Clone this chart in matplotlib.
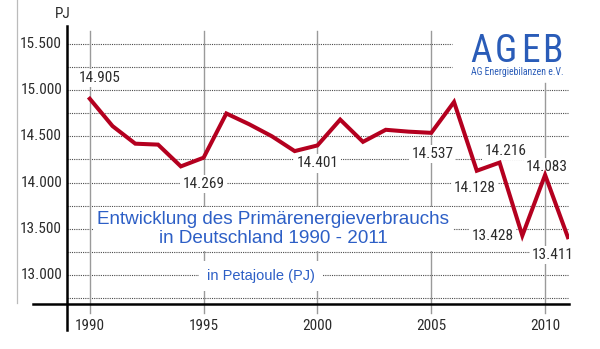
import matplotlib
matplotlib.use("Agg")
import matplotlib.pyplot as plt
from matplotlib.lines import Line2D
import matplotlib.transforms as mtransforms

# Primärenergieverbrauch in Deutschland, PJ
years = [1990, 1991, 1992, 1993, 1994, 1995, 1996, 1997, 1998, 1999, 2000,
         2001, 2002, 2003, 2004, 2005, 2006, 2007, 2008, 2009, 2010, 2011]
pj = [14905, 14610, 14420, 14410, 14175, 14269, 14746, 14630, 14500, 14340, 14401,
      14680, 14440, 14570, 14550, 14537, 14870, 14128, 14216, 13428, 14083, 13411]

# which years get a value label, and where the label sits (pixel offset)
labeled = {1990: (10, 21), 1995: (0, -26), 2000: (0, -18), 2005: (1, -21),
           2007: (-2, -17), 2008: (6, 12), 2009: (-30, 0), 2010: (2, 8),
           2011: (-15, -18)}

ytick_vals = [13000, 13500, 14000, 14500, 15000, 15500]
grid_vals = [12750, 13000, 13250, 13500, 13750, 14000, 14250, 14500, 14750, 15000, 15250, 15500]
xtick_vals = [1990, 1995, 2000, 2005, 2010]

NARROW = ['Roboto Condensed', 'Archivo Narrow', 'Liberation Sans', 'DejaVu Sans']
ARIAL = ['Liberation Sans', 'DejaVu Sans']
RED = '#b4001f'
BLUE = '#2d5fc6'
TXT = '#2b2b2b'


def de(v):
    return f"{v:,}".replace(",", ".")


W, H = 600, 349
fig = plt.figure(figsize=(W / 100, H / 100), dpi=100)
# axes box in pixels: x 67..569, y 26..304 (from top)
ax = fig.add_axes([67 / W, (H - 304) / H, 502 / W, 278 / H])
ax.set_xlim(1989, 2011.05)
ax.set_ylim(12690, 15690)
for s in ax.spines.values():
    s.set_visible(False)
ax.set_xticks([])
ax.set_yticks([])

x_data = mtransforms.blended_transform_factory(ax.transData, ax.transAxes)
y_data = mtransforms.blended_transform_factory(ax.transAxes, ax.transData)

# horizontal dotted grid (the top two stop short of the logo)
for g in grid_vals:
    x1 = 2005.9 if g > 15000 else 2011
    ax.plot([1989, x1], [g, g], ls=(0, (1, 1)), color='#4a4a4a', lw=0.8, zorder=1)

# vertical grid, reaching a little below the x axis
for x in xtick_vals:
    top = 0.795 if x == 2010 else 0.982
    ax.plot([x, x], [-0.032, top], transform=x_data, color='#9a9a9a', lw=1.0,
            clip_on=False, zorder=1)

# axis lines
ax.plot([-34 / 502, 1.0], [0, 0], transform=ax.transAxes, color='black', lw=1.8,
        clip_on=False, zorder=5)
ax.plot([0, 0], [-26 / 278, 1.0], transform=ax.transAxes, color='black', lw=1.8,
        clip_on=False, zorder=5)
fig.add_artist(Line2D([17 / W, 17 / W], [(H - 303) / H, 1.0], color='#bbbbbb', lw=0.9))

# series
ax.plot(years, pj, color=RED, lw=2.9, solid_joinstyle='miter', zorder=4)

for yr, (dx, dy) in labeled.items():
    v = pj[years.index(yr)]
    ax.annotate(de(v), (yr, v), xytext=(dx, dy), textcoords='offset pixels',
                ha='center', va='center', fontsize=11, family=NARROW, color=TXT,
                bbox=dict(fc='white', ec='none', pad=1.5), zorder=3)

# tick labels
for v in ytick_vals:
    ax.text(-5 / 502, v, de(v), transform=y_data, ha='right', va='center',
            fontsize=11, family=NARROW, color=TXT)
for x in xtick_vals:
    ax.text(x, -22 / 278, str(x), transform=x_data, ha='center', va='center',
            fontsize=11, family=NARROW, color=TXT)
fig.text(63 / W, 1 - 14 / H, 'PJ', ha='center', va='center', fontsize=11,
         family=NARROW, color=TXT)

# title block
fig.text(273 / W, 1 - 229 / H, 'Entwicklung des Primärenergieverbrauchs\nin Deutschland 1990 - 2011',
         ha='center', va='center', fontsize=13.6, family=ARIAL, color=BLUE,
         linespacing=1.12, bbox=dict(fc='white', ec='none', pad=3), zorder=3)
fig.text(261 / W, 1 - 276 / H, 'in Petajoule (PJ)', ha='center', va='center',
         fontsize=10.5, family=ARIAL, color=BLUE,
         bbox=dict(fc='white', ec='none', pad=6), zorder=3)

# AGEB mark
for ch, cx in zip('AGEB', [481, 506, 530, 552]):
    fig.text(cx / W, 1 - 51 / H, ch, ha='center', va='center', fontsize=27,
             family=NARROW, color='#2a5cb8')
fig.text(517 / W, 1 - 72 / H, 'AG Energiebilanzen e.V.', ha='center', va='center',
         fontsize=7, family=NARROW, color='#2a5cb8')

fig.savefig('out.png', dpi=100)
